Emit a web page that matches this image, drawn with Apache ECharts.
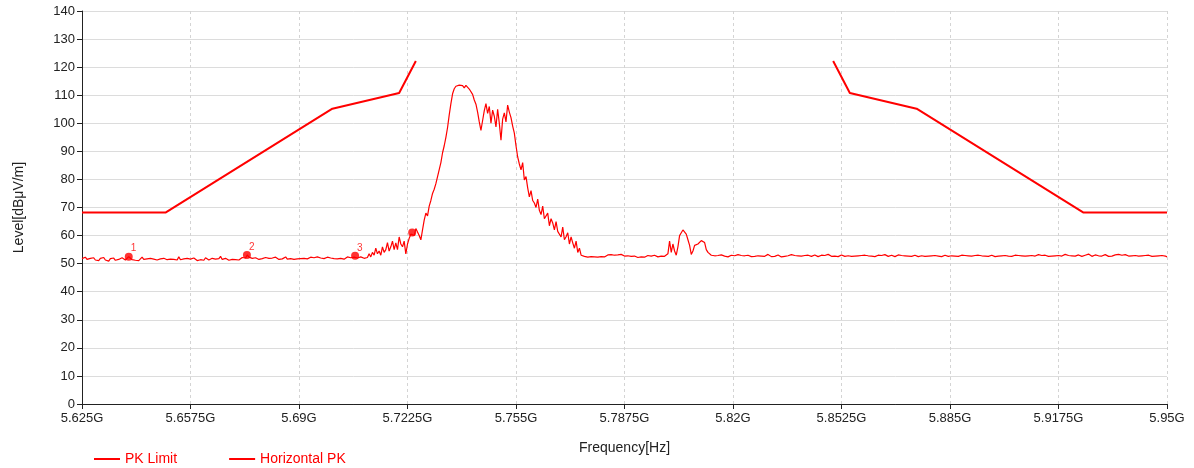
<!DOCTYPE html>
<html>
<head>
<meta charset="utf-8">
<script src="https://cdn.jsdelivr.net/npm/echarts@6/dist/echarts.min.js"></script>
<style>
html,body{margin:0;padding:0;background:#fff;}
#chart{width:1194px;height:468px;}
</style>
</head>
<body>
<div id="chart"></div>
<script>
// ---- Data ----
var X_START = 5.625, X_STOP = 5.95, X_INTERVAL = 0.0325; // GHz
var yTicks = [0, 10, 20, 30, 40, 50, 60, 70, 80, 90, 100, 110, 120, 130, 140];

var limitName = 'PK Limit';
var limitFreq  = [5.625, 5.65, 5.70, 5.72, 5.725, null, 5.85, 5.855, 5.875, 5.925, 5.95];
var limitLevel = [68.2, 68.2, 105.2, 110.8, 122.2, null, 122.2, 110.8, 105.2, 68.2, 68.2];

var traceName = 'Horizontal PK';
// sweep points spread evenly from X_START to X_STOP
var traceLevel = [
51.8,51.2,52.3,51.5,51.0,51.9,51.4,52.1,51.3,51.7,
51.1,51.9,51.5,52.2,51.3,51.6,50.9,51.8,51.4,52.0,
51.2,51.7,51.5,51.0,52.1,51.6,51.3,51.9,52.5,51.8,
51.4,52.0,51.2,51.6,51.1,51.8,52.3,51.5,51.2,51.7,
51.0,51.9,51.4,51.6,52.2,51.3,51.1,51.7,51.5,51.9,
51.2,51.4,52.0,51.6,51.1,51.5,51.8,51.3,52.4,51.4,
51.0,51.7,51.5,51.9,51.2,51.6,51.3,52.0,51.5,51.1,
51.8,51.4,51.6,51.2,52.1,51.5,51.3,51.7,51.9,51.2,
51.6,51.4,51.8,52.6,51.5,51.3,51.9,51.6,51.2,51.8,
51.5,52.0,51.4,51.7,51.3,51.9,52.2,51.6,52.0,53.1,
52.3,51.6,51.9,51.4,52.1,51.7,51.5,52.0,51.8,51.4,
52.2,51.7,51.9,51.5,52.0,51.6,52.3,51.8,51.5,52.1,
51.7,51.9,52.4,51.6,52.0,51.8,52.2,51.5,52.0,51.7,
52.1,51.8,52.5,51.9,52.2,51.7,52.0,52.3,51.8,52.1,
51.9,52.4,51.7,52.0,52.2,51.8,51.9,52.3,51.6,52.0,
52.2,51.8,52.0,51.7,52.3,51.9,52.1,51.6,52.0,52.4,
51.8,52.1,51.7,52.3,52.8,52.0,51.8,52.4,52.1,51.9,
52.6,52.2,53.5,52.4,
54,53,55.5,53.5,54.5,53,56,54,55,57.5,
54.5,56,58,55,57.4,55,59.5,57,56,58,
53.5,57,59,60.5,61.1,60,62.5,63,60,58.5,
62,65.5,68,67,70.5,72.5,75,76.5,78.5,81,
83.5,86,89.5,92,95,98.5,103,107,110.5,112.3,
113.2,112.8,113.6,113.0,113.4,112.6,113.5,112.9,112.2,111.5,
110.3,108.3,106.8,104,100.5,97.5,101,104.5,107,103.5,
106,100,104.7,102.5,98.7,105,100,94,101.5,103.7,
100.5,106.5,104,102,99,96.5,92,88,85.5,83.4,
86,79.8,81,77,73.8,76,72.5,71.6,70,73,
69,67.5,70.5,66,65.6,68,63.5,66,64.5,62,
65,61.5,62,59.5,63,58.5,59.6,61,57,59.5,
57.4,55.5,58,54,55.5,53,53.5,52.6,52.5,52.3,
52.8,52.5,53,
52.4,52.7,52.3,52.6,52.5,52.9,52.4,52.7,53.1,52.8,
53.2,53.5,53.0,53.4,53.1,52.8,53.3,52.9,52.7,52.5,
52.8,52.4,52.6,52.3,52.7,52.5,52.2,52.6,52.4,52.8,
52.3,52.6,52.9,52.4,52.7,52.5,53.0,52.6,52.4,52.9,52.7,53.3,52.6,
52.8,53.5,58,54,57,54.5,53,56,60,61,
62,61.5,60.5,58.5,56.5,53.3,54.5,56.5,56,57,
57.5,58.2,58,57.5,55,54,53.3,53,52.5,
52.8,52.4,52.9,52.6,53.1,52.5,52.7,52.9,52.4,52.8,
53.0,52.6,52.8,52.5,53.2,52.7,52.9,52.4,52.8,52.6,
53.0,52.7,52.5,52.9,52.6,53.1,52.8,52.5,52.7,53.0,
52.6,52.8,53.3,52.7,52.5,52.9,52.6,52.8,53.1,52.7,
52.4,52.9,52.6,53.0,52.8,52.5,53.2,52.7,52.9,52.6,
52.8,53.4,52.7,52.5,52.9,52.6,53.0,52.8,52.6,52.9,
53.1,52.7,52.5,52.8,53.0,52.6,52.9,52.7,53.3,52.8,
52.6,52.9,52.7,53.0,52.5,52.8,53.1,52.7,52.6,52.9,
52.8,53.0,52.6,52.9,52.7,53.2,52.8,52.5,52.9,52.7,
53.0,52.6,52.8,53.1,52.7,52.9,52.5,52.8,53.0,52.6,
52.9,52.7,53.2,52.8,52.6,52.9,53.0,52.7,52.5,52.8,
53.1,52.7,52.9,52.6,52.8,53.3,52.7,52.9,52.6,52.8,
53.0,52.7,52.5,52.9,52.8,53.1,52.6,52.9,52.7,53.0,
52.8,52.6,52.9,53.2,52.7,52.8,52.5,52.9,53.0,52.7,
52.6,52.9,52.8,53.1,52.7,52.9,52.6,52.8,53.0,52.7,
52.9,52.6,52.8,53.2,52.7,52.5,52.9,52.8,53.0,52.6,
52.8,53.1,52.7,52.9,52.6,52.8,53.0,52.7,52.5,52.9,
52.7,53.0,52.8,52.6,52.9,53.3,52.7,52.8,52.6,52.9,
53.0,52.7,52.9,52.6,52.8,53.1,52.7,52.9,52.8,52.6,
52.9,53.0,52.7,52.8,53.2,52.6,52.9,52.7,53.0,52.8,
52.6,52.9,52.7,53.1,52.8,52.6,52.9,53.0,52.7,52.8,
53.3,52.7,52.9,52.6,52.8,53.0,52.7,52.9,53.1,52.8,
52.6,52.9,53.0,52.7,53.4,52.8,52.6,52.9,53.1,52.7,
52.8,53.0,52.7,52.9,53.2,52.8,52.6,53.0,52.7,52.9,
53.1,52.8,53.3,52.7,53.0,52.8,53.2,52.9,52.7,53.0,
52.8,53.1,52.9,53.2,52.7,53.0,52.8,53.1,52.9,52.7,
53.0,52.8,52.6,52.9,52.7,52.5,52.8,52.6,52.9,52.5,
52.7,52.4
];

var markerLabels = ['1', '2', '3', ''];
var markerFreq   = [5.6390, 5.6744, 5.7068, 5.7239];
var markerLevel  = [52.5, 53.1, 52.8, 61.1];

// ---- Build ----
function toOffset(f) { return Math.round((f - X_START) * 1e7) / 1e4; } // MHz from start
var spanMHz = toOffset(X_STOP);
var stepMHz = spanMHz / (traceLevel.length - 1);

var limitData = limitFreq.map(function (f, i) {
  return f === null ? ['-', '-'] : [toOffset(f), limitLevel[i]];
});
var traceData = traceLevel.map(function (v, i) { return [i * stepMHz, v]; });
var markerData = markerFreq.map(function (f, i) {
  return { value: [toOffset(f), markerLevel[i]], label: { formatter: markerLabels[i] } };
});

var FONT = '"Liberation Sans", Arial, sans-serif';
var RED = '#ff0000';

var chart = echarts.init(document.getElementById('chart'), null, { renderer: 'canvas' });
chart.setOption({
  animation: false,
  backgroundColor: '#ffffff',
  textStyle: { fontFamily: FONT },
  grid: { left: 82, right: 27, top: 11, bottom: 64 },
  legend: {
    data: [limitName, traceName],
    left: 89, top: 447,
    icon: 'rect', itemWidth: 26, itemHeight: 2, itemGap: 52,
    textStyle: { color: RED, fontSize: 14, fontFamily: FONT }
  },
  xAxis: {
    type: 'value',
    min: 0, max: spanMHz, interval: X_INTERVAL * 1000,
    name: 'Frequency[Hz]', nameLocation: 'middle', nameGap: 37,
    nameTextStyle: { color: '#222', fontSize: 14, fontFamily: FONT },
    axisLine: { onZero: false, lineStyle: { color: '#222', width: 1 } },
    axisTick: { show: true, length: 5, lineStyle: { color: '#222' } },
    axisLabel: {
      color: '#222', fontSize: 13, fontFamily: FONT, margin: 8,
      formatter: function (v) { return parseFloat((X_START + v / 1000).toFixed(4)) + 'G'; }
    },
    splitLine: { show: true, lineStyle: { color: '#d4d4d4', type: [3, 3], width: 1 } }
  },
  yAxis: {
    type: 'value',
    min: yTicks[0], max: yTicks[yTicks.length - 1], interval: yTicks[1] - yTicks[0],
    name: 'Level[dBμV/m]', nameLocation: 'middle', nameGap: 56,
    nameTextStyle: { color: '#222', fontSize: 14, fontFamily: FONT },
    axisLine: { show: true, lineStyle: { color: '#222', width: 1 } },
    axisTick: { show: true, length: 5, lineStyle: { color: '#222' } },
    axisLabel: { color: '#222', fontSize: 13, fontFamily: FONT, margin: 7 },
    splitLine: { show: true, lineStyle: { color: '#dcdcdc', width: 1 } }
  },
  series: [
    {
      name: limitName, type: 'line', data: limitData,
      showSymbol: false, symbol: 'none', connectNulls: false,
      lineStyle: { color: RED, width: 2 }, itemStyle: { color: RED },
      z: 3
    },
    {
      name: traceName, type: 'line', data: traceData,
      showSymbol: false, symbol: 'none',
      lineStyle: { color: RED, width: 1.2 }, itemStyle: { color: RED },
      z: 2
    },
    {
      name: 'Markers', type: 'scatter', data: markerData,
      symbol: 'circle', symbolSize: 8,
      itemStyle: { color: RED },
      label: {
        show: true, position: [6, -9], color: RED, fontSize: 10, fontFamily: FONT
      },
      z: 4
    }
  ]
});
</script>
</body>
</html>
